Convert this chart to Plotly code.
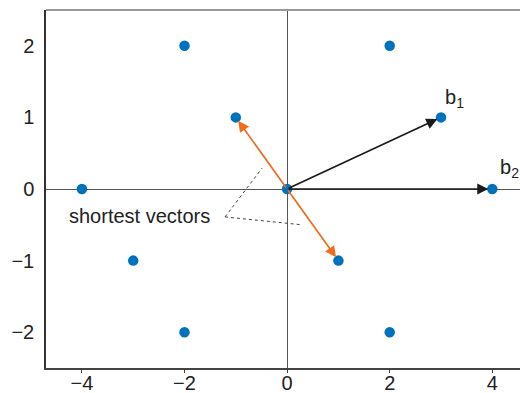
import plotly.graph_objects as go

# Lattice points
pts_x = [-2, 2, -1, 3, -4, 0, 4, -3, 1, -2, 2]
pts_y = [2, 2, 1, 1, 0, 0, 0, -1, -1, -2, -2]

# Basis vectors (black) and shortest vectors (orange), all from origin
basis_x = [3, 4]
basis_y = [1, 0]
basis_labels = ["b<sub>1</sub>", "b<sub>2</sub>"]
basis_label_x = [3.27, 4.33]
basis_label_y = [1.26, 0.28]

short_x = [-1, 1]
short_y = [1, -1]

# Annotation for shortest vectors
note_text = "shortest vectors"
note_x = -2.87
note_y = -0.38
leader_vertex = (-1.21, -0.39)
leader_ends_x = [-0.49, 0.29]
leader_ends_y = [0.29, -0.50]

xticks = [-4, -2, 0, 2, 4]
yticks = [-2, -1, 0, 1, 2]
xticklabels = ["\u22124", "\u22122", "0", "2", "4"]
yticklabels = ["\u22122", "\u22121", "0", "1", "2"]

BLUE = "#0072BD"
ORANGE = "#F26B1D"
BLACK = "#1a1a1a"

fig = go.Figure()

# leader dotted lines
for ex, ey in zip(leader_ends_x, leader_ends_y):
    fig.add_trace(go.Scatter(
        x=[leader_vertex[0], ex], y=[leader_vertex[1], ey], mode="lines",
        line=dict(color="#444", width=1, dash="dot"), hoverinfo="skip", showlegend=False))

fig.add_trace(go.Scatter(
    x=pts_x, y=pts_y, mode="markers",
    marker=dict(color=BLUE, size=10.5), showlegend=False, cliponaxis=False))

annotations = []
for bx, by in zip(basis_x, basis_y):
    annotations.append(dict(
        x=bx, y=by, ax=0, ay=0, xref="x", yref="y", axref="x", ayref="y",
        showarrow=True, arrowhead=2, arrowsize=1.3, arrowwidth=1.7,
        arrowcolor=BLACK, standoff=4, text=""))
for sx, sy in zip(short_x, short_y):
    annotations.append(dict(
        x=sx, y=sy, ax=0, ay=0, xref="x", yref="y", axref="x", ayref="y",
        showarrow=True, arrowhead=2, arrowsize=1.3, arrowwidth=1.7,
        arrowcolor=ORANGE, standoff=4, text=""))
for t, lx, ly in zip(basis_labels, basis_label_x, basis_label_y):
    annotations.append(dict(
        x=lx, y=ly, xref="x", yref="y", text=t, showarrow=False,
        font=dict(size=20, color="#222")))
annotations.append(dict(
    x=note_x, y=note_y, xref="x", yref="y", text=note_text, showarrow=False,
    font=dict(size=20, color="#222")))

fig.update_layout(
    width=520, height=393,
    margin=dict(l=46, r=0, t=10, b=25, autoexpand=False),
    paper_bgcolor="white", plot_bgcolor="white",
    font=dict(family="Liberation Sans, Arial, sans-serif", size=20, color="#222"),
    annotations=annotations,
    shapes=[dict(type="line", xref="paper", yref="paper", x0=0, x1=1, y0=1, y1=1,
                 line=dict(color="#999", width=2))],
    xaxis=dict(range=[-4.7, 4.54], tickvals=xticks, ticktext=xticklabels,
               showgrid=False, zeroline=True, zerolinecolor="#555", zerolinewidth=1,
               showline=True, linecolor="#444", linewidth=1.5, automargin=False,
               ticks="outside", ticklen=3, tickcolor="#444",
               ticklabelstandoff=-7, fixedrange=True),
    yaxis=dict(range=[-2.5, 2.5], tickvals=yticks, ticktext=yticklabels,
               showgrid=False, zeroline=True, zerolinecolor="#555", zerolinewidth=1,
               showline=True, linecolor="#333", linewidth=1.5, automargin=False,
               ticks="", ticklabelstandoff=6, fixedrange=True),
)

fig.write_html(
    "out.html",
    config={"displayModeBar": False},
    post_script="document.body.style.margin='0';document.body.style.overflow='hidden';",
)
